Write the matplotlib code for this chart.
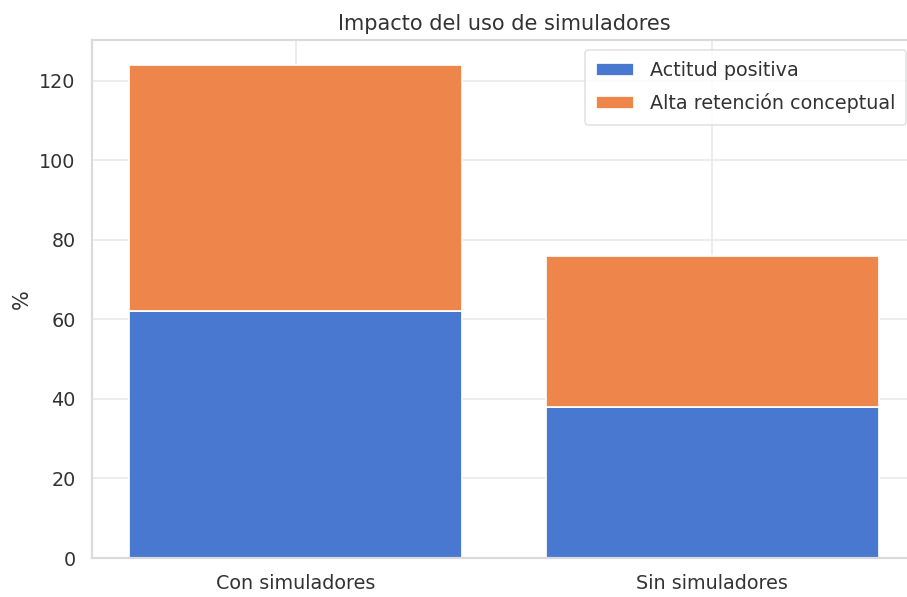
import matplotlib
matplotlib.use("Agg")
import matplotlib.pyplot as plt
import seaborn as sns

categories = ["Con simuladores", "Sin simuladores"]
actitud_positiva = [62, 38]
alta_retencion = [62, 38]

sns.set_theme(style="whitegrid", palette="muted")
plt.rcParams['font.family'] = ['DejaVu Sans']
plt.rcParams['grid.color'] = '#e8e8e8'
plt.rcParams['grid.linewidth'] = 0.9
plt.rcParams['axes.edgecolor'] = '#dadada'
plt.rcParams['text.color'] = '#333333'
plt.rcParams['axes.labelcolor'] = '#333333'
plt.rcParams['xtick.color'] = '#333333'
plt.rcParams['ytick.color'] = '#333333'

dpi = 125
fig = plt.figure(figsize=(907 / dpi, 597 / dpi), dpi=dpi)
ax = fig.add_axes([92 / 907, 39 / 597, (916 - 92) / 907, (558 - 40) / 597])

colors = sns.color_palette("muted")
ax.bar(categories, actitud_positiva, color=colors[0], label="Actitud positiva")
ax.bar(categories, alta_retencion, bottom=actitud_positiva, color=colors[1],
       label="Alta retención conceptual")

ax.set_title("Impacto del uso de simuladores", fontsize=12)
ax.set_ylabel("%", fontsize=12)
ax.tick_params(axis="both", labelsize=11)
ax.legend(loc="upper right", fontsize=11, labelspacing=0.7,
          borderpad=0.6, edgecolor='#dddddd')

fig.savefig("out.png", dpi=dpi)
